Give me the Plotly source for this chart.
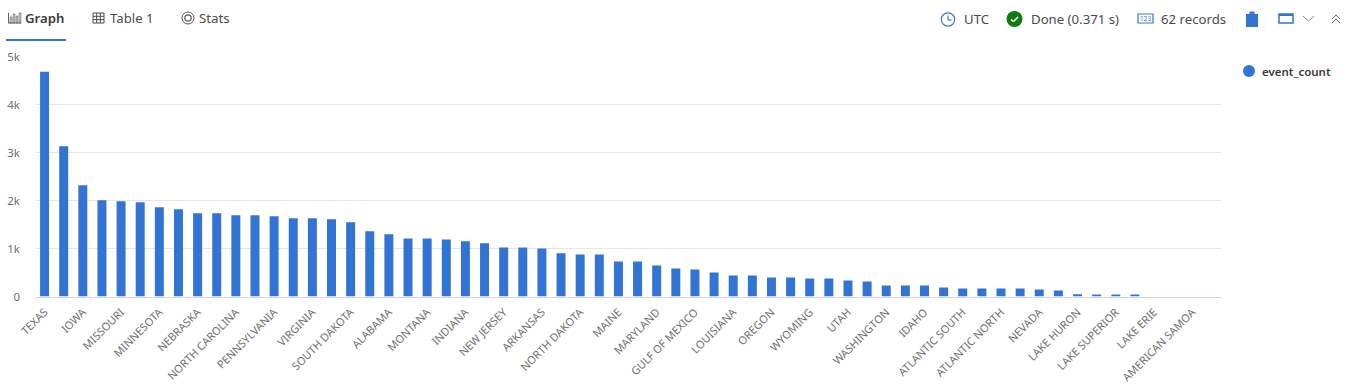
import plotly.graph_objects as go

states = ["TEXAS","KANSAS","IOWA","ILLINOIS","MISSOURI","GEORGIA","MINNESOTA","WISCONSIN","NEBRASKA","NEW YORK",
          "NORTH CAROLINA","KENTUCKY","PENNSYLVANIA","OHIO","VIRGINIA","FLORIDA","SOUTH DAKOTA","MICHIGAN","ALABAMA","OKLAHOMA",
          "MONTANA","MISSISSIPPI","INDIANA","TENNESSEE","NEW JERSEY","COLORADO","ARKANSAS","SOUTH CAROLINA","NORTH DAKOTA","CALIFORNIA",
          "MAINE","WEST VIRGINIA","MARYLAND","NEW MEXICO","GULF OF MEXICO","ARIZONA","LOUISIANA","ALASKA","OREGON","VERMONT",
          "WYOMING","MASSACHUSETTS","UTAH","NEW HAMPSHIRE","WASHINGTON","CONNECTICUT","IDAHO","HAWAII","ATLANTIC SOUTH","PUERTO RICO",
          "ATLANTIC NORTH","DELAWARE","NEVADA","RHODE ISLAND","LAKE HURON","LAKE MICHIGAN","LAKE SUPERIOR","LAKE ONTARIO","LAKE ERIE","GUAM",
          "AMERICAN SAMOA","VIRGIN ISLANDS"]
event_count = [4680,3130,2320,2005,1985,1965,1860,1820,1735,1735,
               1695,1695,1670,1630,1630,1610,1545,1360,1295,1210,
               1210,1190,1150,1110,1023,1023,1000,900,877,877,
               730,730,647,585,564,500,438,438,397,397,
               376,376,334,313,230,230,230,188,167,167,
               167,167,146,125,48,21,21,21,0,0,
               0,0]
tick_labels = states[::2]
y_ticks = [0,1000,2000,3000,4000,5000]

W, H = 1348, 386
BLUE = "#3274d3"
FONT = "Noto Sans"
INK = "#4b4b4b"

fig = go.Figure()
fig.add_trace(go.Bar(x=states, y=event_count, marker=dict(color=BLUE, line=dict(width=0)),
                     name="event_count", showlegend=False))

px = lambda x: x / W
py = lambda y: 1 - y / H
shapes, ann = [], []
def line(x0,y0,x1,y1,c=INK,w=1):
    shapes.append(dict(type="line",x0=px(x0),y0=py(y0),x1=px(x1),y1=py(y1),xref="paper",yref="paper",line=dict(color=c,width=w)))
def rect(x0,y0,x1,y1,fill="rgba(0,0,0,0)",c=None,w=1):
    shapes.append(dict(type="rect",x0=px(x0),y0=py(y0),x1=px(x1),y1=py(y1),xref="paper",yref="paper",fillcolor=fill,
                       line=dict(color=c or fill,width=w if c else 0)))
def circ(cx,cy,r,fill="rgba(0,0,0,0)",c=None,w=1):
    rectargs = dict(x0=px(cx-r),y0=py(cy-r),x1=px(cx+r),y1=py(cy+r))
    shapes.append(dict(type="circle",xref="paper",yref="paper",fillcolor=fill,
                       line=dict(color=c or fill,width=w if c else 0),**rectargs))
def text(x,y,s,size=13.2,color=INK,weight=400):
    ann.append(dict(x=px(x),y=py(y),xref="paper",yref="paper",text=s,showarrow=False,xanchor="left",
                    yanchor="middle",font=dict(family=FONT,size=size,color=color,weight=weight),borderpad=0,borderwidth=0))

# tabs
text(25,18,"Graph",13.2,"#3a3a3a",600)
text(110,18,"Table 1")
text(199,18,"Stats")
rect(6,39,66,41,BLUE)
# graph icon
line(8.5,13,8.5,23,"#666"); line(8,23,21,23,"#666")
for x,t in [(11,17),(14,14),(17,16),(20,13)]:
    rect(x-0.8,t,x+0.8,23,"rgba(0,0,0,0)","#666",0.8)
# table icon
rect(93,13,104,23,"rgba(0,0,0,0)",INK,1)
for x in (96.7,100.3): line(x,13,x,23)
for y in (16.3,19.6): line(93,y,104,y)
# stats icon
circ(188,18,6,c="#555"); circ(188,18,3.2,c="#555",w=1.2)
# clock
circ(948,19.5,6.7,c="#3a78d0",w=1.2)
line(948,15.5,948,20,"#3a78d0",1.2); line(948,20,951.5,20,"#3a78d0",1.2)
text(964,19,"UTC")
# done
circ(1014.5,19,8,"#107c10")
line(1011,19.5,1013.5,21.5,"white",1.6); line(1013.5,21.5,1018,17,"white",1.6)
text(1031,19,"Done (0.371 s)")
# records
rect(1138,14,1153,23,"rgba(0,0,0,0)","#3a78d0",1.2)
ann.append(dict(x=px(1145.5),y=py(18.5),xref="paper",yref="paper",text="123",showarrow=False,
                xanchor="center",yanchor="middle",font=dict(family=FONT,size=6.5,color="#3a78d0")))
text(1161,19,"62 records")
# clipboard
rect(1246,14,1258,27,BLUE); rect(1249.5,11.5,1254.5,15,BLUE)
# window
rect(1279,14,1293,23,"white",BLUE,1.5); rect(1279,14,1293,16,BLUE)
# chevrons
line(1303,16,1308.5,21,"#8a8a8a"); line(1308.5,21,1314,16,"#8a8a8a")
for dy in (0,4):
    line(1332,19+dy,1336,15+dy,"#666"); line(1336,15+dy,1340,19+dy,"#666")
# legend
circ(1249,71,6,BLUE)
text(1262,71,"event_count",11.5,"#3a3a3a",600)

fig.update_layout(
    width=W, height=H, margin=dict(l=0,r=0,t=0,b=0), autosize=False,
    paper_bgcolor="white", plot_bgcolor="white", showlegend=False, bargap=0.53,
    font=dict(family=FONT,size=12,color="#6e6e6e"),
    shapes=shapes, annotations=ann,
    xaxis=dict(domain=[35/W,1221/W], type="category", tickmode="array", tickvals=tick_labels, ticktext=tick_labels,
               tickangle=-45, ticks="", showline=True, linecolor="#ccd6eb", linewidth=1, showgrid=False,
               ticklabelstandoff=4, tickfont=dict(family=FONT,size=11,color="#707070"), fixedrange=True, automargin=False,
               categoryorder="array", categoryarray=states, range=[-0.5,61.5]),
    yaxis=dict(domain=[1-296.5/H,1-56.5/H], range=[0,5000], tickmode="array", tickvals=y_ticks,
               tickformat="~s", gridcolor="#e6e6e6", gridwidth=1, zeroline=False, showline=False, ticks="",
               ticklabelstandoff=14, tickfont=dict(family=FONT,size=11.5,color="#707070"),
               fixedrange=True, automargin=False),
)
fig.write_html("out.html", config=dict(displayModeBar=False),
               post_script="document.body.style.margin='0';document.documentElement.style.overflow='hidden';")
